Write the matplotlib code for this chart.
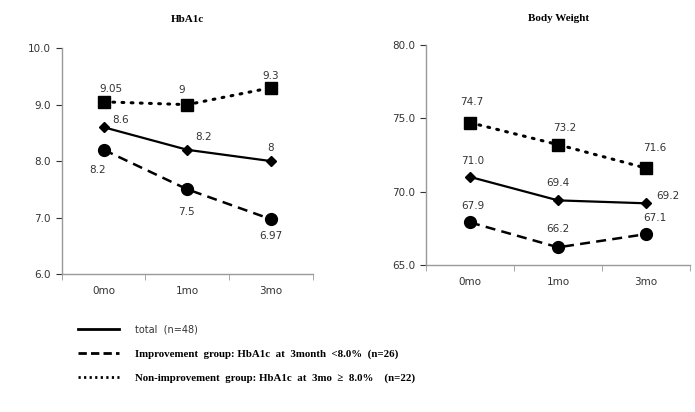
import numpy as np
import matplotlib.pyplot as plt
from matplotlib.lines import Line2D

months = ['0mo', '1mo', '3mo']

# HbA1c
hba1c_total = [8.6, 8.2, 8.0]
hba1c_improve = [8.2, 7.5, 6.97]
hba1c_nonimp = [9.05, 9.0, 9.3]
hba1c_total_lbl = ['8.6', '8.2', '8']
hba1c_improve_lbl = ['8.2', '7.5', '6.97']
hba1c_nonimp_lbl = ['9.05', '9', '9.3']

# Body weight
bw_total = [71.0, 69.4, 69.2]
bw_improve = [67.9, 66.2, 67.1]
bw_nonimp = [74.7, 73.2, 71.6]
bw_total_lbl = ['71.0', '69.4', '69.2']
bw_improve_lbl = ['67.9', '66.2', '67.1']
bw_nonimp_lbl = ['74.7', '73.2', '71.6']

legend_labels = ['total  (n=48)',
                 'Improvement  group: HbA1c  at  3month  <8.0%  (n=26)',
                 'Non-improvement  group: HbA1c  at  3mo  \u2265  8.0%    (n=22)']

fig = plt.figure(figsize=(6.95, 4.12), dpi=100)
ax1 = fig.add_axes([0.089, 0.335, 0.361, 0.548])
ax2 = fig.add_axes([0.613, 0.357, 0.380, 0.534])

px = 0.72  # points per pixel


def style(ax, lo, hi, step):
    x = np.arange(len(months))
    ax.set_xlim(-0.5, len(months) - 0.5)
    ax.set_ylim(lo, hi)
    ax.set_yticks(np.arange(lo, hi + 0.01, step))
    ax.set_yticklabels([f'{v:.1f}' for v in np.arange(lo, hi + 0.01, step)])
    ax.set_xticks(x)
    ax.set_xticklabels(months)
    ax.set_xticks(np.arange(-0.5, len(months), 1), minor=True)
    ax.tick_params(axis='x', which='major', length=0, pad=9)
    ax.tick_params(axis='x', which='minor', length=4, color='#999999', direction='out')
    ax.tick_params(axis='y', length=4, color='#999999', pad=4)
    ax.tick_params(labelsize=7.5, colors='#333333')
    for s in ['top', 'right']:
        ax.spines[s].set_visible(False)
    for s in ['left', 'bottom']:
        ax.spines[s].set_color('#999999')
        ax.spines[s].set_linewidth(1)


def draw(ax, total, imp, non):
    x = np.arange(len(months))
    ax.plot(x, non, color='black', lw=2.2, ls=(0, (0.6, 2.4)), dash_capstyle='round',
            marker='s', ms=8.5)
    ax.plot(x, total, color='black', lw=1.6, ls='-', marker='D', ms=5.5)
    ax.plot(x, imp, color='black', lw=1.8, ls=(0, (4, 2.5)), marker='o', ms=8.5)


def label(ax, vals, texts, offsets):
    for i, (v, t, (dx, dy)) in enumerate(zip(vals, texts, offsets)):
        ax.annotate(t, (i, v), xytext=(dx * px, dy * px), textcoords='offset points',
                    ha='center', va='center', fontsize=7.5, color='#333333')


style(ax1, 6.0, 10.0, 1.0)
draw(ax1, hba1c_total, hba1c_improve, hba1c_nonimp)
label(ax1, hba1c_nonimp, hba1c_nonimp_lbl, [(7, 13), (-6, 15), (0, 12)])
label(ax1, hba1c_total, hba1c_total_lbl, [(17, 7), (16, 13), (0, 13)])
label(ax1, hba1c_improve, hba1c_improve_lbl, [(-6, -20), (-1, -23), (0, -17)])
ax1.set_title('HbA1c', fontsize=8, fontweight='bold', family='Liberation Serif',
              pad=19)

style(ax2, 65.0, 80.0, 5.0)
draw(ax2, bw_total, bw_improve, bw_nonimp)
label(ax2, bw_nonimp, bw_nonimp_lbl, [(2, 21), (7, 17), (9, 20)])
label(ax2, bw_total, bw_total_lbl, [(3, 16), (0, 17), (22, 7)])
label(ax2, bw_improve, bw_improve_lbl, [(3, 16), (0, 18), (9, 16)])
ax2.set_title('Body Weight', fontsize=8, fontweight='bold', family='Liberation Serif',
              pad=17)

handles = [Line2D([], [], color='black', lw=2, ls='-'),
           Line2D([], [], color='black', lw=2, ls=(0, (3, 1.5))),
           Line2D([], [], color='black', lw=2, ls=(0, (0.8, 1.2)))]
leg = fig.legend(handles, legend_labels, loc='upper left', bbox_to_anchor=(0.098, 0.235),
                 frameon=False, handlelength=3.8, handletextpad=1.5, labelspacing=1.3,
                 fontsize=7.8)
texts = leg.get_texts()
texts[0].set_color('#333333')
texts[0].set_fontsize(7)
for t in texts[1:]:
    t.set_family('Liberation Serif')
    t.set_fontweight('bold')

fig.savefig('out.png', dpi=100)
